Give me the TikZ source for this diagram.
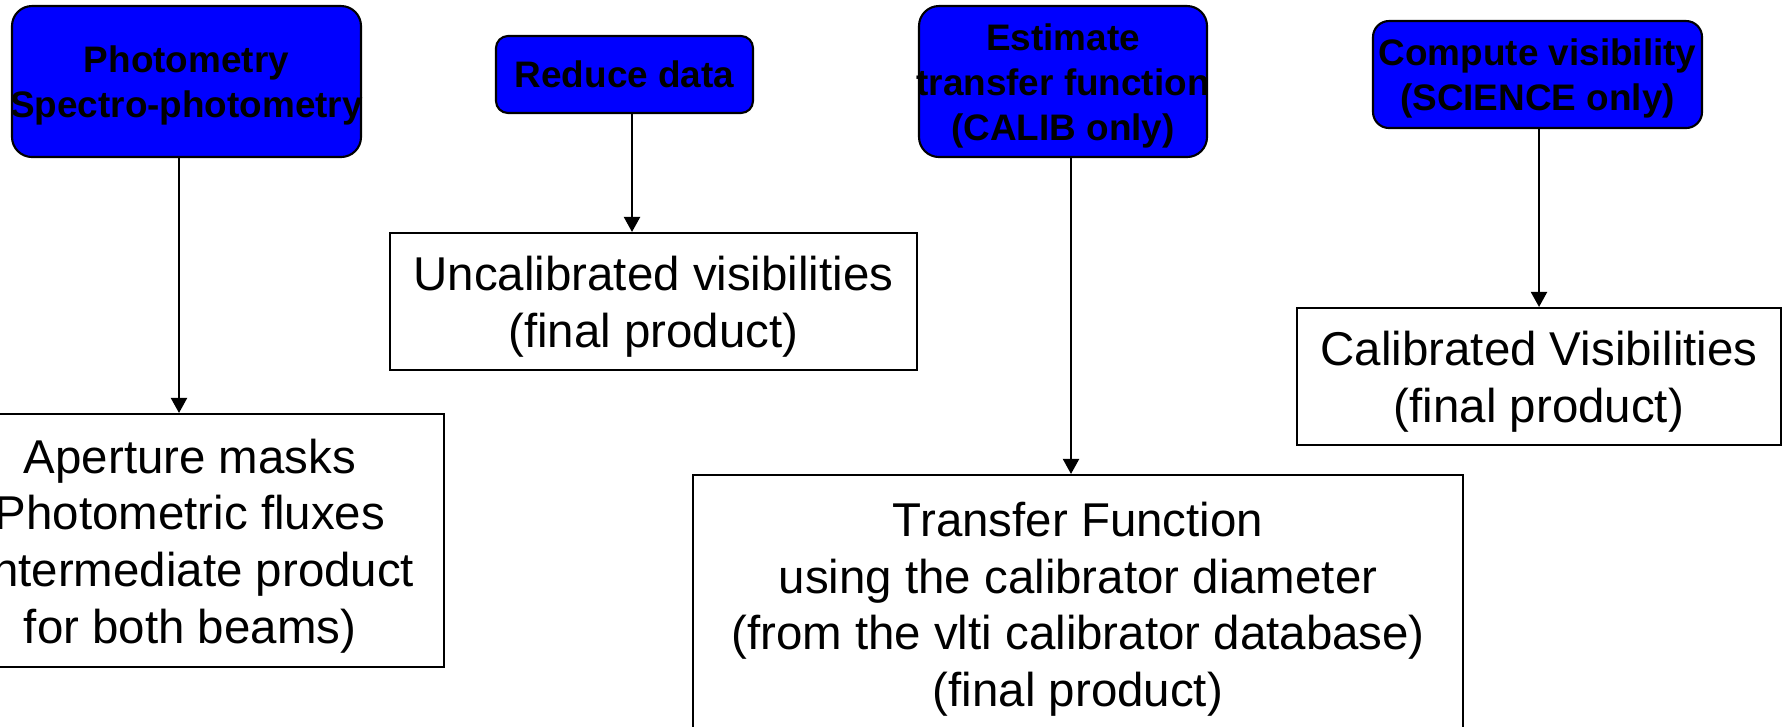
\documentclass[tikz,border=0pt]{standalone}
\usepackage{fontspec}
\setmainfont{Liberation Sans}
\usetikzlibrary{arrows.meta}
\definecolor{TaskBlue}{HTML}{0000FF}
% taller first line, so the text sits a little low in its box
\newcommand{\tstrut}{\rule{0pt}{0.95em}}

\begin{document}
\begin{tikzpicture}[
    task/.style={draw=black, fill=TaskBlue, rounded corners=0.2cm, line width=0.6pt, inner xsep=-0.1cm, inner ysep=0pt, align=center, font=\fontsize{10.5}{12.8}\selectfont\bfseries},
    product/.style={draw=black, fill=white, line width=0.6pt, inner sep=0pt, align=center, font=\fontsize{13.5}{16.1}\selectfont},
    arrow/.style={-{Triangle[length=1.5mm, width=1.6mm]}, line width=0.6pt, draw=black}
  ]
    \useasboundingbox (0,0) rectangle (17.88,-7.26);
    % processing steps
    \node[task, minimum width=3.49cm, minimum height=1.51cm] (phot) at (1.865,-0.815) {\tstrut Photometry\\Spectro-photometry};
    \node[task, minimum width=2.57cm, minimum height=0.77cm, rounded corners=0.12cm] (reduce) at (6.245,-0.745) {Reduce data};
    \node[task, minimum width=2.88cm, minimum height=1.51cm] (estim) at (10.63,-0.815) {\tstrut Estimate\\transfer function\\(CALIB only)};
    \node[task, minimum width=3.29cm, minimum height=1.07cm, rounded corners=0.16cm] (compute) at (15.375,-0.745) {\tstrut Compute visibility\\(SCIENCE only)};
    % products
    \node[product, minimum width=5.08cm, minimum height=2.53cm] (masks) at (1.90,-5.405) {\tstrut Aperture masks\\Photometric fluxes\\(intermediate product\\for both beams)};
    \node[product, minimum width=5.27cm, minimum height=1.37cm] (uncal) at (6.535,-3.015) {\tstrut Uncalibrated visibilities\\(final product)};
    \node[product, minimum width=7.70cm, minimum height=2.58cm] (tf) at (10.78,-6.04) {\tstrut Transfer Function\\using the calibrator diameter\\(from the vlti calibrator database)\\(final product)};
    \node[product, minimum width=4.84cm, minimum height=1.37cm] (calib) at (15.39,-3.765) {\tstrut Calibrated Visibilities\\(final product)};
    \draw[arrow] ([xshift=-0.075cm]phot.south) -- ([xshift=-0.075cm]phot.south |- masks.north);
    \draw[arrow] ([xshift=0.075cm]reduce.south) -- ([xshift=0.075cm]reduce.south |- uncal.north);
    \draw[arrow] ([xshift=0.08cm]estim.south) -- ([xshift=0.08cm]estim.south |- tf.north);
    \draw[arrow] ([xshift=0.015cm]compute.south) -- ([xshift=0.015cm]compute.south |- calib.north);
  \end{tikzpicture}
\end{document}
